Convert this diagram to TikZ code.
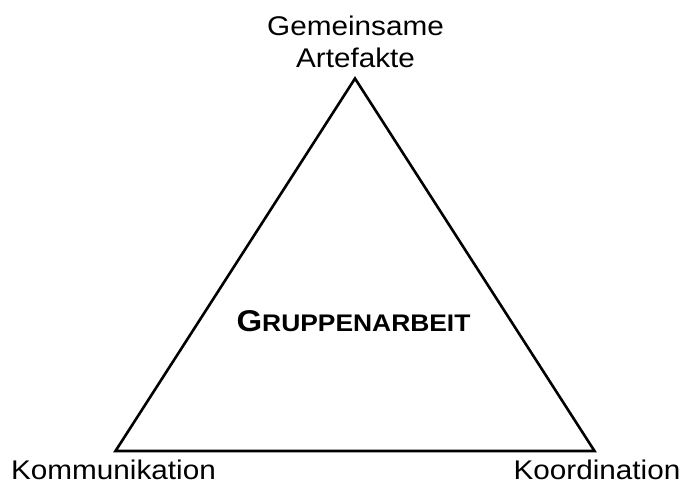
\documentclass[tikz,border=0pt]{standalone}
\usepackage{fontspec}
\usepackage{graphicx}
\setmainfont{Liberation Sans}
\begin{document}
\begin{tikzpicture}[x=1pt,y=1pt,
  label/.style={inner sep=0pt, anchor=base, font=\fontsize{27}{30}\selectfont},
  title/.style={inner sep=0pt, anchor=base, font=\bfseries}]
\useasboundingbox (0,0) rectangle (685,487);
% triangle corners
\coordinate (top) at (355,408.5);
\coordinate (left) at (115.5,36);
\coordinate (right) at (594.5,36);
\draw[line width=2.6pt, line join=miter] (top) -- (right) -- (left) -- cycle;
% corner labels (slightly widened type)
\node[label] (gem) at (355.5,451) {\scalebox{1.1}[1]{Gemeinsame}};
\node[label] (art) at (355.5,419) {\scalebox{1.1}[1]{Artefakte}};
\node[label] (kom) at (113.5,7) {\scalebox{1.1}[1]{Kommunikation}};
\node[label] (koo) at (597,7) {\scalebox{1.1}[1]{Koordination}};
% centre title in small capitals
\node[title] (grp) at (353.5,155) {\scalebox{1.1}[1]{{\fontsize{30}{32}\selectfont G}{\fontsize{24}{32}\selectfont RUPPENARBEIT}}};
\end{tikzpicture}
\end{document}
